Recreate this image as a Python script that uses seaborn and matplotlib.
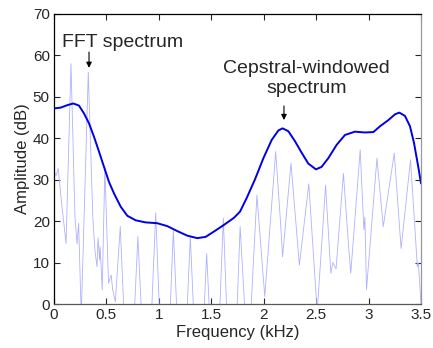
import numpy as np
import pandas as pd
import matplotlib
matplotlib.use("Agg")
import matplotlib.pyplot as plt
import seaborn as sns

# FFT spectrum (kHz, dB) - peaks and troughs
fft_freq = [0.0, 0.02, 0.04, 0.07, 0.115, 0.162, 0.20, 0.22, 0.235, 0.26,
            0.327, 0.37, 0.39, 0.41, 0.42, 0.435, 0.44, 0.46, 0.485, 0.52,
            0.545, 0.56, 0.585, 0.632, 0.715, 0.80, 0.885, 0.97, 1.055, 1.138,
            1.22, 1.30, 1.38, 1.456, 1.535, 1.615, 1.695, 1.775, 1.85, 1.935,
            2.01, 2.114, 2.165, 2.18, 2.26, 2.34, 2.43, 2.51, 2.59, 2.64,
            2.66, 2.69, 2.76, 2.81, 2.83, 2.92, 2.955, 2.965, 2.98, 3.08,
            3.14, 3.245, 3.31, 3.40, 3.465, 3.475, 3.5]
fft_db = [32.0, 31.0, 32.7, 25.0, 14.6, 58.0, 21.0, 14.5, 19.5, -3.0,
          56.0, 21.0, 13.0, 9.0, 16.0, 10.6, 13.8, 3.4, 33.0, 5.0,
          7.0, 3.4, 0.5, 18.7, -30.0, 16.3, -30.0, 22.0, -35.0, 17.9,
          -30.0, 16.3, -30.0, 12.2, -30.0, 20.7, -35.0, 18.7, -15.0, 26.3,
          1.8, 36.8, 17.9, 11.4, 34.0, 9.4, 29.0, -2.0, 28.7, 7.4,
          10.0, 8.5, 31.5, 13.8, 7.4, 37.2, 18.0, 21.0, 3.4, 35.2,
          18.7, 36.4, 13.4, 34.8, 9.0, 10.0, 0.0]

# cepstral-windowed (smoothed) spectrum
cep_freq = [0.0, 0.064, 0.127, 0.184, 0.238, 0.286, 0.334, 0.381, 0.429, 0.477,
            0.524, 0.572, 0.636, 0.699, 0.779, 0.874, 0.985, 1.081, 1.176, 1.271,
            1.367, 1.446, 1.526, 1.621, 1.716, 1.774, 1.838, 1.917, 1.997, 2.076,
            2.14, 2.18, 2.235, 2.298, 2.362, 2.425, 2.498, 2.552, 2.616, 2.695,
            2.775, 2.87, 2.966, 3.046, 3.109, 3.189, 3.253, 3.293, 3.347, 3.395,
            3.433, 3.474, 3.5]
cep_db = [47.2, 47.4, 48.0, 48.4, 47.9, 46.0, 43.6, 40.4, 36.8, 33.1,
          29.5, 26.7, 23.5, 21.3, 20.2, 19.7, 19.5, 18.8, 17.6, 16.5,
          15.9, 16.2, 17.5, 19.1, 20.8, 22.3, 25.6, 30.1, 35.2, 39.6,
          41.9, 42.4, 41.7, 39.3, 36.5, 33.9, 32.5, 33.1, 35.2, 38.4,
          40.8, 41.6, 41.4, 41.5, 42.9, 44.4, 45.8, 46.2, 45.4, 42.9,
          38.9, 33.1, 29.1]

sns.set_style("ticks")
plt.rcParams['font.family'] = ['Liberation Sans', 'DejaVu Sans']

fig = plt.figure(figsize=(4.33, 3.48), dpi=100)
ax = fig.add_axes([0.1247, 0.1264, 0.8476, 0.8334])

fft_df = pd.DataFrame({'freq': fft_freq, 'db': fft_db})
cep_df = pd.DataFrame({'freq': cep_freq, 'db': cep_db})
sns.lineplot(data=fft_df, x='freq', y='db', ax=ax, color='#b0b0ff', lw=0.6,
             estimator=None, sort=False)
sns.lineplot(data=cep_df, x='freq', y='db', ax=ax, color='#0000e6', lw=1.4,
             estimator=None, sort=False)

ax.set_xlim(0, 3.5)
ax.set_ylim(0, 70)
ax.set_xticks([0, 0.5, 1, 1.5, 2, 2.5, 3, 3.5])
ax.set_xticklabels(['0', '0.5', '1', '1.5', '2', '2.5', '3', '3.5'])
ax.set_yticks(range(0, 71, 10))
ax.tick_params(direction='in', top=True, right=True, length=4, width=0.8,
               labelsize=11, pad=3)
ax.set_xlabel('Frequency (kHz)', fontsize=12, labelpad=2)
ax.set_ylabel('Amplitude (dB)', fontsize=12, labelpad=2)
for side in ['left', 'top']:
    ax.spines[side].set_color('black')
ax.spines['bottom'].set_color('0.35')
ax.spines['right'].set_color('0.6')
for sp in ax.spines.values():
    sp.set_linewidth(0.9)

arrow = dict(arrowstyle='-|>', color='black', lw=0.8, mutation_scale=8,
             shrinkA=0, shrinkB=0)
ax.text(0.653, 63.0, 'FFT spectrum', fontsize=14, ha='center', va='center')
ax.annotate('', xy=(0.334, 57.0), xytext=(0.334, 60.8), arrowprops=arrow)
ax.text(2.41, 54.4, 'Cepstral-windowed\nspectrum', fontsize=14,
        ha='center', va='center', linespacing=1.2)
ax.annotate('', xy=(2.193, 44.4), xytext=(2.193, 47.8), arrowprops=arrow)

fig.savefig('out.png', dpi=100)
